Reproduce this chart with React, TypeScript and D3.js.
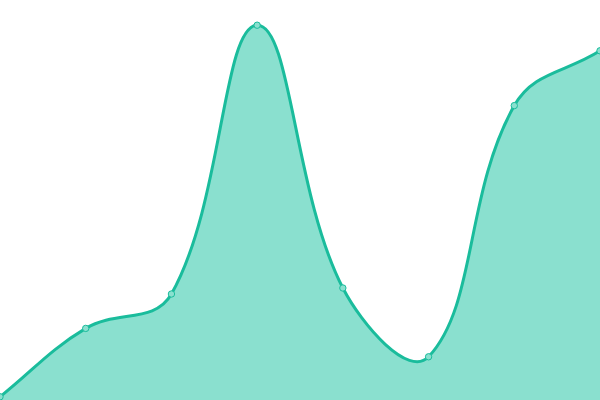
import * as d3 from "d3";

const categories = ["A", "B", "C", "D", "E", "F", "G", "H"];
const values = [0.8, 17.9, 26.5, 93.7, 28, 10.8, 73.6, 87.3];

const width = 600;
const height = 400;
const tension = 0.4;

// spline curve for d3.line / d3.area, control points weighted by segment lengths
class SplineCurve {
  _context: any;
  _line = NaN;
  _pts: [number, number][] = [];
  constructor(context: any) {
    this._context = context;
  }
  areaStart() {
    this._line = 0;
  }
  areaEnd() {
    this._line = NaN;
  }
  lineStart() {
    this._pts = [];
  }
  point(x: number, y: number) {
    this._pts.push([+x, +y]);
  }
  lineEnd() {
    const p = this._pts;
    const n = p.length;
    const ctx = this._context;
    if (n) {
      if (this._line) ctx.lineTo(p[0][0], p[0][1]);
      else ctx.moveTo(p[0][0], p[0][1]);
      const cps = p.map((cur, i) => {
        const prev = p[Math.max(0, i - 1)];
        const next = p[Math.min(n - 1, i + 1)];
        const d01 = Math.hypot(cur[0] - prev[0], cur[1] - prev[1]);
        const d12 = Math.hypot(next[0] - cur[0], next[1] - cur[1]);
        let s01 = d01 / (d01 + d12);
        let s12 = d12 / (d01 + d12);
        if (isNaN(s01)) s01 = 0;
        if (isNaN(s12)) s12 = 0;
        const fa = tension * s01;
        const fb = tension * s12;
        const dx = next[0] - prev[0];
        const dy = next[1] - prev[1];
        return {
          prev: [cur[0] - fa * dx, cur[1] - fa * dy],
          next: [cur[0] + fb * dx, cur[1] + fb * dy],
        };
      });
      for (let i = 1; i < n; i++) {
        const a = cps[i - 1].next;
        const b = cps[i].prev;
        ctx.bezierCurveTo(a[0], a[1], b[0], b[1], p[i][0], p[i][1]);
      }
    }
    if (this._line || (this._line !== 0 && n === 1)) ctx.closePath();
    this._line = 1 - this._line;
  }
}

const curveSpline = (context: any) => new SplineCurve(context);

export default function App() {
  const x = d3
    .scalePoint<string>()
    .domain(categories)
    .range([0, width]);
  const y = d3.scaleLinear().domain([0, 100]).range([height, 0]);

  const data = categories.map((c, i) => ({ c, v: values[i] }));

  const area = d3
    .area<{ c: string; v: number }>()
    .x((d) => x(d.c) as number)
    .y0(y(0))
    .y1((d) => y(d.v))
    .curve(curveSpline as any);

  const line = d3
    .line<{ c: string; v: number }>()
    .x((d) => x(d.c) as number)
    .y((d) => y(d.v))
    .curve(curveSpline as any);

  return (
    <svg
      width={width}
      height={height}
      style={{ position: "fixed", top: 0, left: 0, display: "block" }}
    >
      <path d={area(data) || ""} fill="#8ae0cf" />
      <path d={line(data) || ""} fill="none" stroke="#1abc9c" strokeWidth={3} />
      {data.map((d) => (
        <circle
          key={d.c}
          cx={x(d.c) as number}
          cy={y(d.v)}
          r={3.2}
          fill="#8ae0cf"
          stroke="#1abc9c"
          strokeWidth={1}
        />
      ))}
    </svg>
  );
}
